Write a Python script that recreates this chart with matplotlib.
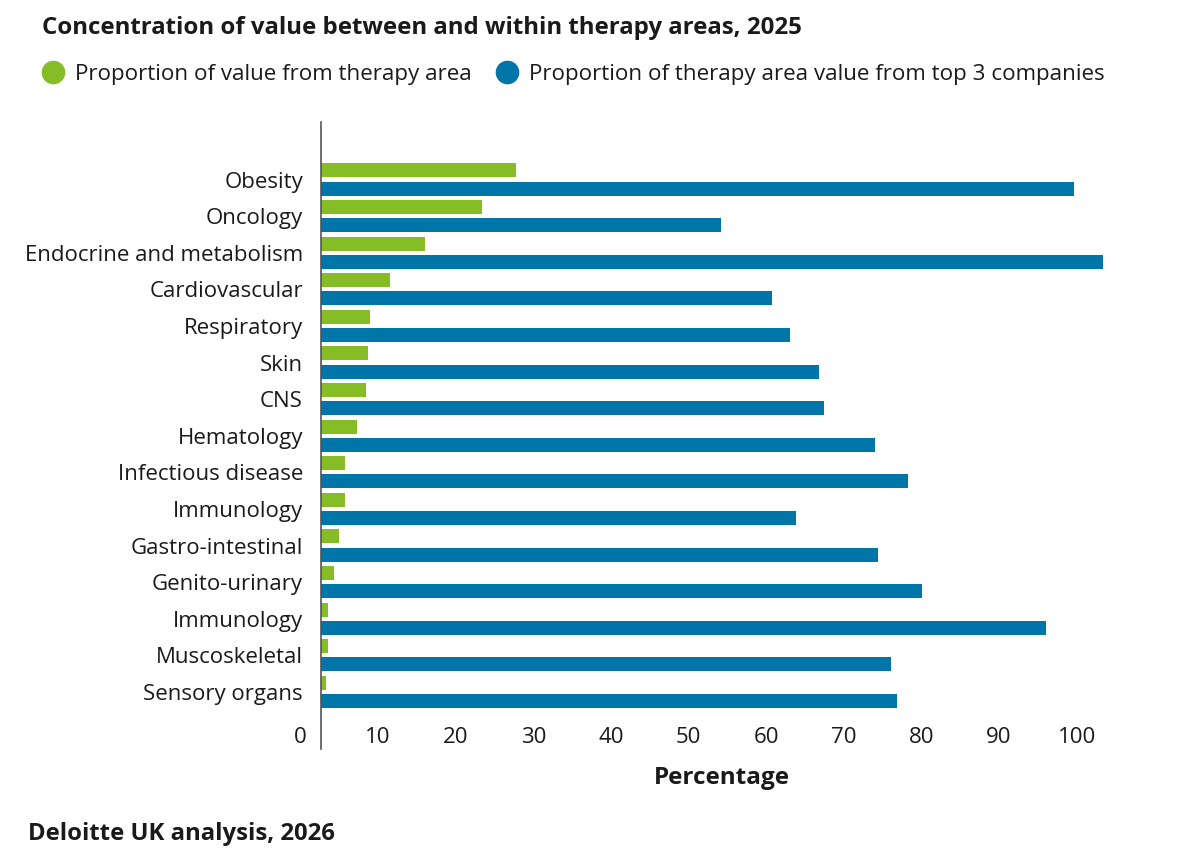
import numpy as np
import matplotlib.pyplot as plt
from matplotlib.lines import Line2D

plt.rcParams['font.family'] = ['Open Sans', 'DejaVu Sans']

# Data (percent)
areas = ['Obesity', 'Oncology', 'Endocrine and metabolism', 'Cardiovascular',
         'Respiratory', 'Skin', 'CNS', 'Hematology', 'Infectious disease',
         'Immunology', 'Gastro-intestinal', 'Genito-urinary', 'Immunology',
         'Muscoskeletal', 'Sensory organs']
share_of_value = [27.8, 23.4, 16.1, 11.5, 9.0, 8.7, 8.5, 7.3, 5.7, 5.7,
                  5.0, 4.3, 3.5, 3.5, 3.3]
top3_share = [99.6, 54.2, 103.4, 60.8, 63.1, 66.8, 67.5, 74.0, 78.3, 63.9,
              74.4, 80.1, 96.0, 76.1, 76.8]
xticks = [0, 10, 20, 30, 40, 50, 60, 70, 80, 90, 100]

GREEN = '#86BC25'
BLUE = '#0076A8'
TEXT = '#1a1a1a'
base = 2.65  # the axis line sits slightly right of the 0 label

fig = plt.figure(figsize=(12, 8.67), dpi=100)
ax = fig.add_axes([0.2419, 0.1361, 0.6942, 0.7235])

y = np.arange(len(areas))
ax.barh(y - 0.25, np.array(share_of_value) - base, left=base, height=0.383,
        color=GREEN)
ax.barh(y + 0.25, np.array(top3_share) - base, left=base, height=0.383,
        color=BLUE)

ax.set_xlim(-1.3, 106)
ax.set_ylim(15.56, -1.58)
ax.set_yticks(y)
ax.set_yticklabels(areas)
ax.set_xticks(xticks)
ax.set_xticklabels([str(t) for t in xticks])

for s in ['top', 'right', 'bottom']:
    ax.spines[s].set_visible(False)
ax.spines['left'].set_position(('data', base))
ax.spines['left'].set_color('#555555')
ax.spines['left'].set_linewidth(1.2)

ax.tick_params(axis='y', length=0, pad=13, labelsize=16, labelcolor=TEXT)
ax.tick_params(axis='x', length=0, pad=-16, labelsize=16, labelcolor=TEXT)

ax.set_xlabel('Percentage', fontsize=17.5, fontweight='bold', color=TEXT)
ax.xaxis.set_label_coords(0.5176, -0.056)
ax.xaxis.label.set_va('baseline')

fig.text(41.7 / 1200, 1 - 34.3 / 867,
         'Concentration of value between and within therapy areas, 2025',
         fontsize=17.3, fontweight='bold', color=TEXT, va='baseline')
fig.text(28 / 1200, 1 - 840 / 867, 'Deloitte UK analysis, 2026',
         fontsize=17.2, fontweight='bold', color=TEXT, va='baseline')

handles = [Line2D([], [], ls='none', marker='o', ms=16, color=GREEN),
           Line2D([], [], ls='none', marker='o', ms=16, color=BLUE)]
fig.legend(handles,
           ['Proportion of value from therapy area',
            'Proportion of therapy area value from top 3 companies'],
           loc='center left', bbox_to_anchor=(42.1 / 1200, 1 - 74.5 / 867),
           ncol=2, frameon=False, fontsize=16.1, handlelength=1.0,
           handletextpad=0.48, columnspacing=1.07, borderpad=0,
           borderaxespad=0, labelcolor=TEXT)

fig.savefig('out.png', dpi=100)
